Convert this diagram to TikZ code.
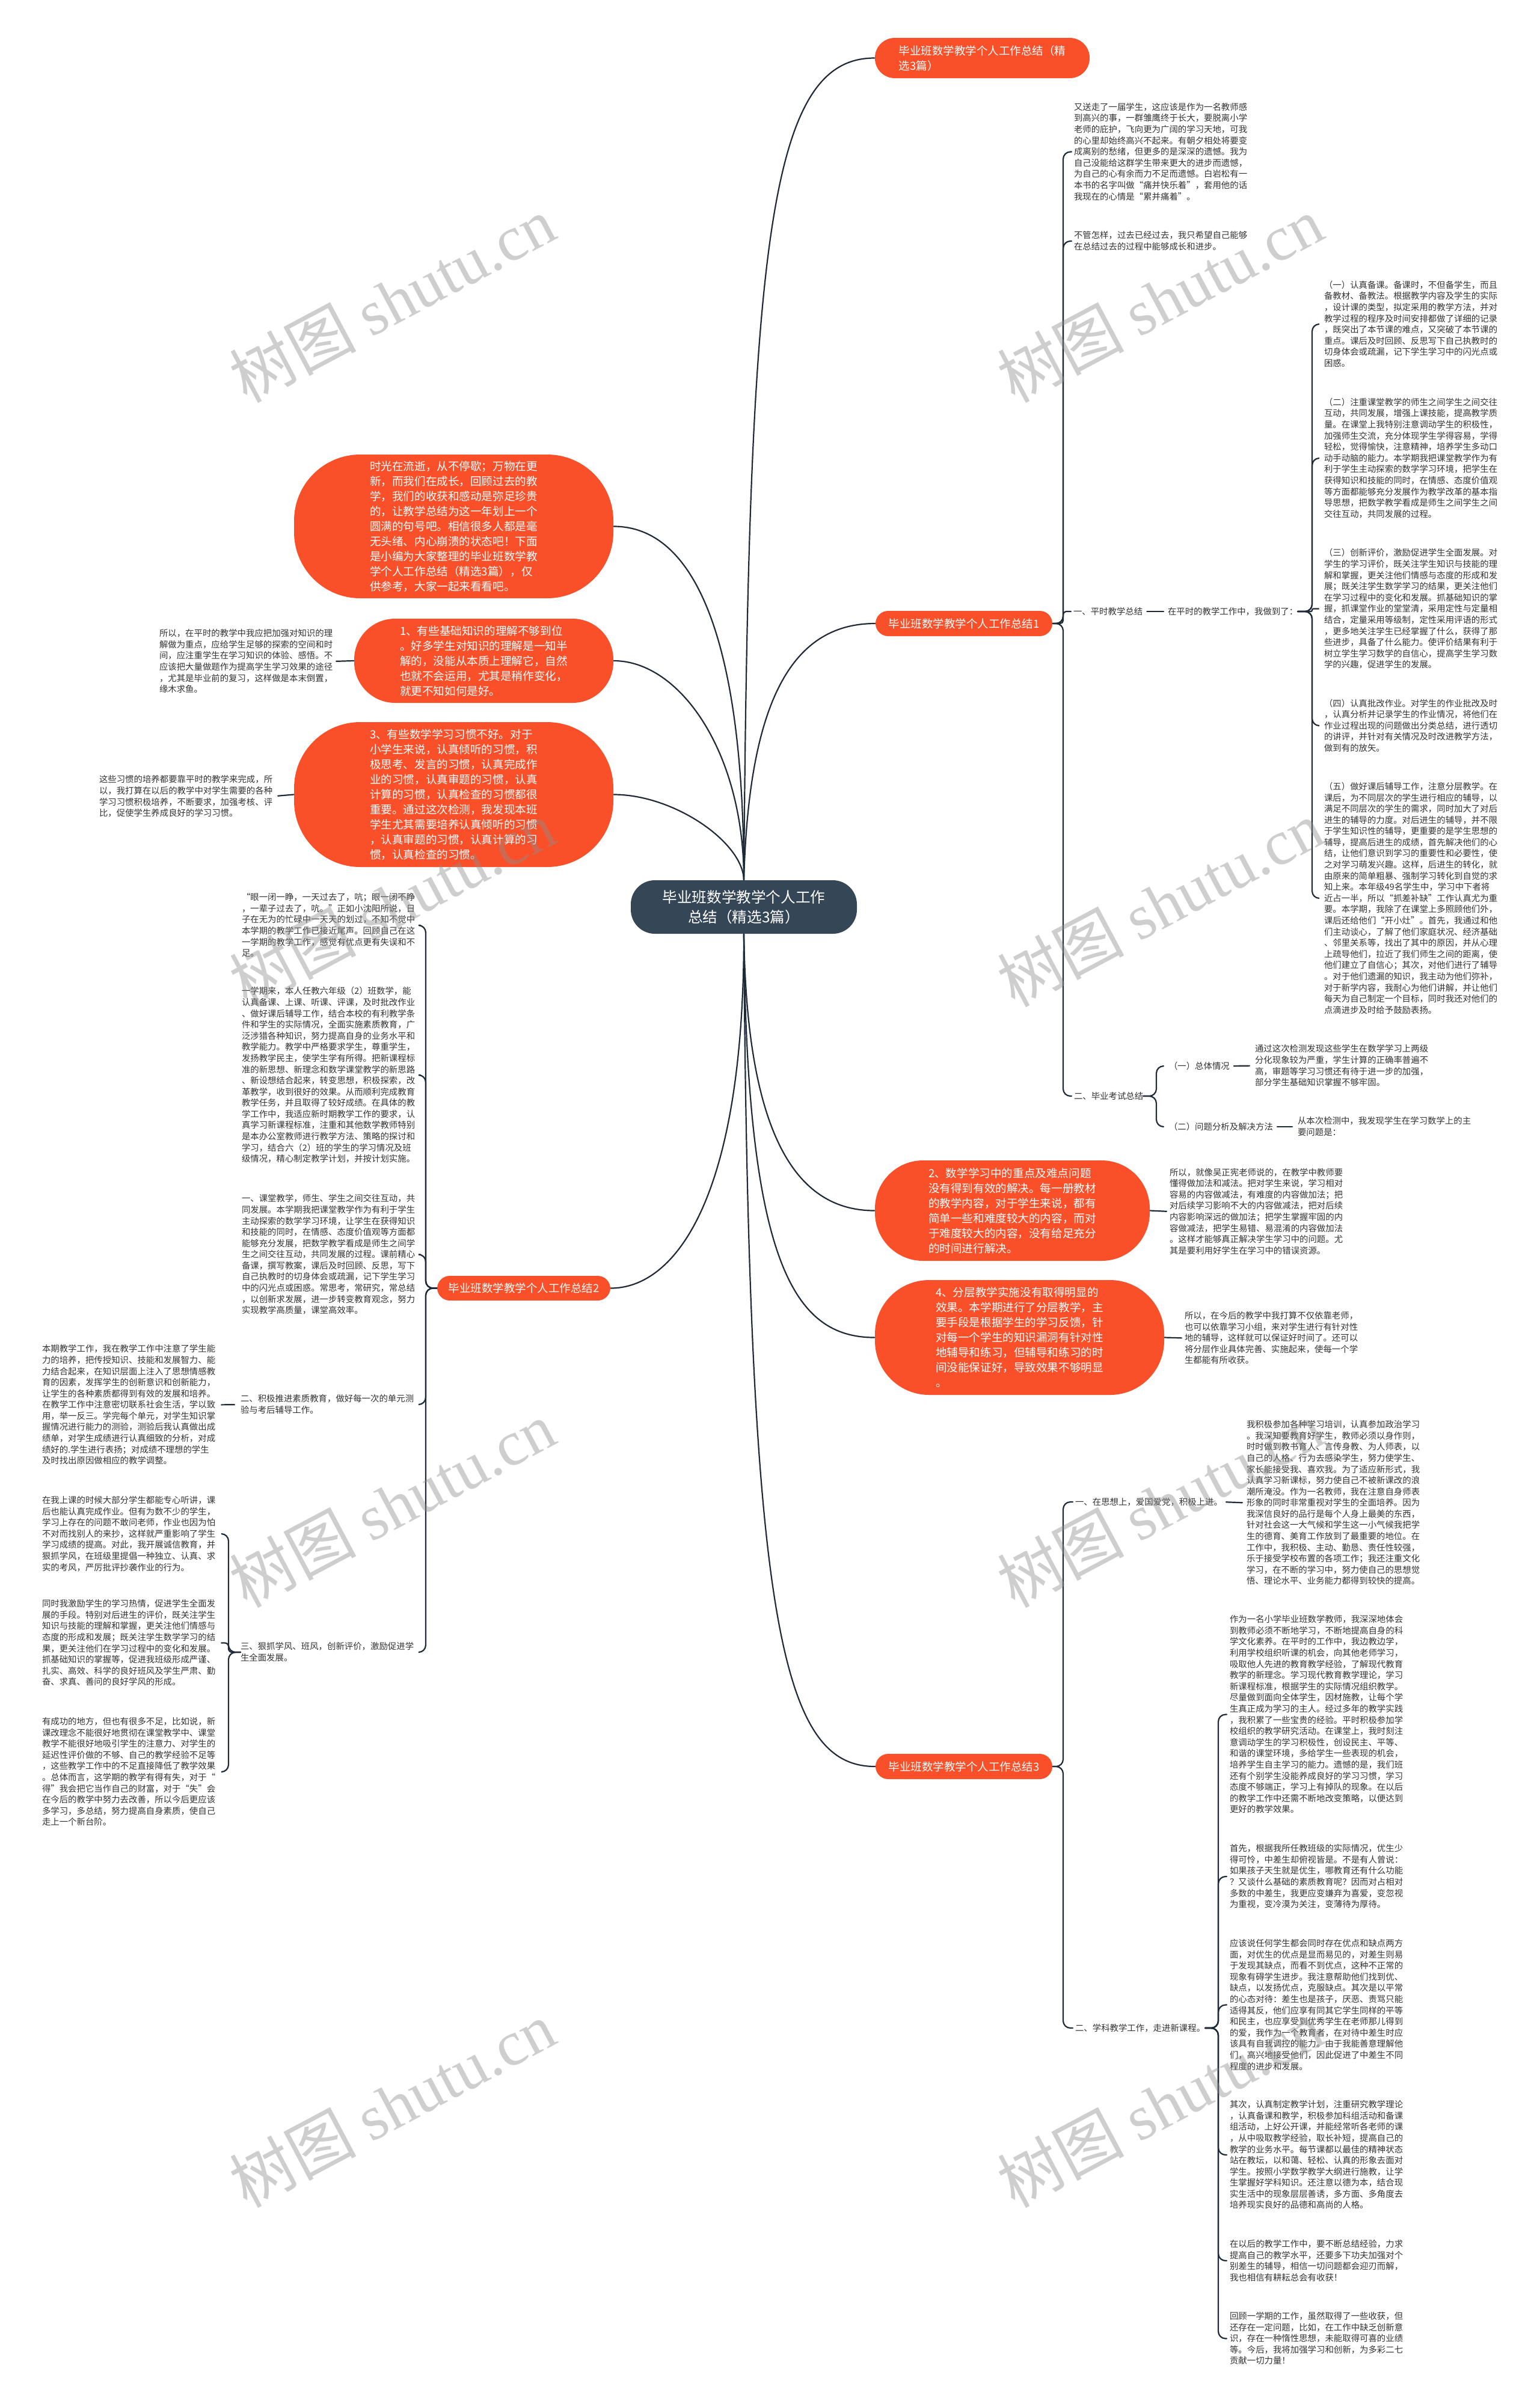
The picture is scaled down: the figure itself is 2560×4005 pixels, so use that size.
\documentclass[tikz,border=0pt]{standalone}
\usepackage{fontspec}
\setmainfont{Noto Sans CJK SC}
\newfontfamily\wmlatin{Liberation Serif}
\definecolor{redc}{RGB}{250,80,42}
\definecolor{darkc}{RGB}{53,70,86}
\definecolor{linec}{RGB}{30,42,55}
\definecolor{txtc}{RGB}{51,51,51}
\tikzset{
  conn/.style={draw=linec, line width=0.22mm, line cap=round},
  hook/.style={conn, rounded corners=1.2mm},
  para/.style={anchor=west, inner sep=0pt, outer sep=0pt, align=left, text=txtc,
    font=\fontsize{4.1pt}{5.29pt}\selectfont,
    execute at begin node={\rule[-0.12em]{0pt}{0.88em}},
    execute at end node={\rule[-0.12em]{0pt}{0.88em}}},
  redbox/.style={fill=redc, text=white, align=left, inner sep=0pt,
    font=\fontsize{5.29pt}{7.11pt}\selectfont},
  branchbox/.style={fill=redc, text=white, inner sep=0pt,
    font=\fontsize{5.26pt}{7.11pt}\selectfont, minimum height=4.2mm,
    minimum width=29.4mm, rounded corners=2.1mm},
  wm/.style={rotate=28, text=black!45, text opacity=0.42, inner sep=0pt,
    font=\fontsize{30pt}{36pt}\selectfont},
}
\begin{document}
\begin{tikzpicture}[x=0.1mm,y=-0.1mm]
\fill[white] (0,0) rectangle (2560,4005);
\useasboundingbox (0,0) rectangle (2560,4005);

% ---------------- central and main nodes ----------------
\node[fill=darkc, text=white, align=center, inner sep=0pt, minimum width=37.6mm,
  minimum height=8.9mm, rounded corners=4mm, font=\fontsize{7pt}{9.3pt}\selectfont]
  (c) at (1237,1508.5) {毕业班数学教学个人工作\\总结（精选3篇）};

\node[redbox, minimum width=35.7mm, minimum height=6.7mm, rounded corners=3.3mm,
  font=\fontsize{5.26pt}{7.11pt}\selectfont] (t) at (1633.5,96.5)
  {毕业班数学教学个人工作总结（精\\选3篇）};

\node[branchbox] (b1) at (1603,1037) {毕业班数学教学个人工作总结1};
\node[branchbox, minimum width=28.8mm, minimum height=4.1mm] (b2) at (871,2142.5) {毕业班数学教学个人工作总结2};
\node[branchbox] (b3) at (1603,2938) {毕业班数学教学个人工作总结3};

\node[redbox, minimum width=53.1mm, minimum height=23.9mm, rounded corners=11mm] (intro) at (754.5,875.5)
{时光在流逝，从不停歇；万物在更\\
新，而我们在成长，回顾过去的教\\
学，我们的收获和感动是弥足珍贵\\
的，让教学总结为这一年划上一个\\
圆满的句号吧。相信很多人都是毫\\
无头绪、内心崩溃的状态吧！下面\\
是小编为大家整理的毕业班数学教\\
学个人工作总结（精选3篇），仅\\
供参考，大家一起来看看吧。};

\node[redbox, minimum width=43.1mm, minimum height=14mm, rounded corners=6.8mm] (n1) at (804.5,1099)
{1、有些基础知识的理解不够到位\\
。好多学生对知识的理解是一知半\\
解的，没能从本质上理解它，自然\\
也就不会运用，尤其是稍作变化，\\
就更不知如何是好。};

\node[redbox, minimum width=53.1mm, minimum height=24.1mm, rounded corners=11mm] (n3) at (754.5,1321.5)
{3、有些数学学习习惯不好。对于\\
小学生来说，认真倾听的习惯，积\\
极思考、发言的习惯，认真完成作\\
业的习惯，认真审题的习惯，认真\\
计算的习惯，认真检查的习惯都很\\
重要。通过这次检测，我发现本班\\
学生尤其需要培养认真倾听的习惯\\
，认真审题的习惯，认真计算的习\\
惯，认真检查的习惯。};

\node[redbox, minimum width=45.7mm, minimum height=16.7mm, rounded corners=8mm] (n2) at (1683.5,2013.5)
{2、数学学习中的重点及难点问题\\
没有得到有效的解决。每一册教材\\
的教学内容，对于学生来说，都有\\
简单一些和难度较大的内容，而对\\
于难度较大的内容，没有给足充分\\
的时间进行解决。};

\node[redbox, minimum width=48.1mm, minimum height=19.1mm, rounded corners=9mm] (n4) at (1695.5,2224.5)
{4、分层教学实施没有取得明显的\\
效果。本学期进行了分层教学，主\\
要手段是根据学生的学习反馈，针\\
对每一个学生的知识漏洞有针对性\\
地辅导和练习，但辅导和练习的时\\
间没能保证好，导致效果不够明显\\
。};

% ---------------- branch 1 texts ----------------
\node[para] (p1a) at (1786,252.5)
{又送走了一届学生，这应该是作为一名教师感\\
到高兴的事，一群雏鹰终于长大，要脱离小学\\
老师的庇护，飞向更为广阔的学习天地，可我\\
的心里却始终高兴不起来。有朝夕相处将要变\\
成离别的愁绪，但更多的是深深的遗憾。我为\\
自己没能给这群学生带来更大的进步而遗憾，\\
为自己的心有余而力不足而遗憾。白岩松有一\\
本书的名字叫做“痛并快乐着”，套用他的话\\
我现在的心情是“累并痛着”。};
\node[para] (p1b) at (1786,401)
{不管怎样，过去已经过去，我只希望自己能够\\
在总结过去的过程中能够成长和进步。};
\node[para] (s1) at (1785,1017) {一、平时教学总结};
\node[para] (s1t) at (1942,1017) {在平时的教学工作中，我做到了：};

\node[para] (r1) at (2202,539)
{（一）认真备课。备课时，不但备学生，而且\\
备教材、备教法。根据教学内容及学生的实际\\
，设计课的类型，拟定采用的教学方法，并对\\
教学过程的程序及时间安排都做了详细的记录\\
，既突出了本节课的难点，又突破了本节课的\\
重点。课后及时回顾、反思写下自己执教时的\\
切身体会或疏漏，记下学生学习中的闪光点或\\
困惑。};
\node[para] (r2) at (2202,762)
{（二）注重课堂教学的师生之间学生之间交往\\
互动，共同发展，增强上课技能，提高教学质\\
量。在课堂上我特别注意调动学生的积极性，\\
加强师生交流，充分体现学生学得容易，学得\\
轻松，觉得愉快，注意精神，培养学生多动口\\
动手动脑的能力。本学期我把课堂教学作为有\\
利于学生主动探索的数学学习环境，把学生在\\
获得知识和技能的同时，在情感、态度价值观\\
等方面都能够充分发展作为教学改革的基本指\\
导思想，把数学教学看成是师生之间学生之间\\
交往互动，共同发展的过程。};
\node[para] (r3) at (2202,1012.5)
{（三）创新评价，激励促进学生全面发展。对\\
学生的学习评价，既关注学生知识与技能的理\\
解和掌握，更关注他们情感与态度的形成和发\\
展；既关注学生数学学习的结果，更关注他们\\
在学习过程中的变化和发展。抓基础知识的掌\\
握，抓课堂作业的堂堂清，采用定性与定量相\\
结合，定量采用等级制，定性采用评语的形式\\
，更多地关注学生已经掌握了什么，获得了那\\
些进步，具备了什么能力。使评价结果有利于\\
树立学生学习数学的自信心，提高学生学习数\\
学的兴趣，促进学生的发展。};
\node[para] (r4) at (2202,1207)
{（四）认真批改作业。对学生的作业批改及时\\
，认真分析并记录学生的作业情况，将他们在\\
作业过程出现的问题做出分类总结，进行透切\\
的讲评，并针对有关情况及时改进教学方法，\\
做到有的放矢。};
\node[para] (r5) at (2202,1494)
{（五）做好课后辅导工作，注意分层教学。在\\
课后，为不同层次的学生进行相应的辅导，以\\
满足不同层次的学生的需求，同时加大了对后\\
进生的辅导的力度。对后进生的辅导，并不限\\
于学生知识性的辅导，更重要的是学生思想的\\
辅导，提高后进生的成绩，首先解决他们的心\\
结，让他们意识到学习的重要性和必要性，使\\
之对学习萌发兴趣。这样，后进生的转化，就\\
由原来的简单粗暴、强制学习转化到自觉的求\\
知上来。本年级49名学生中，学习中下者将\\
近占一半，所以“抓差补缺”工作认真尤为重\\
要。本学期，我除了在课堂上多照顾他们外，\\
课后还给他们“开小灶”。首先，我通过和他\\
们主动谈心，了解了他们家庭状况、经济基础\\
、邻里关系等，找出了其中的原因，并从心理\\
上疏导他们，拉近了我们师生之间的距离，使\\
他们建立了自信心；其次，对他们进行了辅导\\
。对于他们遗漏的知识，我主动为他们弥补，\\
对于新学内容，我耐心为他们讲解，并让他们\\
每天为自己制定一个目标，同时我还对他们的\\
点滴进步及时给予鼓励表扬。};

\node[para] (s2) at (1786,1823) {二、毕业考试总结};
\node[para] (e1) at (1944,1773) {（一）总体情况};
\node[para] (e1t) at (2087,1772.5)
{通过这次检测发现这些学生在数学学习上两级\\
分化现象较为严重，学生计算的正确率普遍不\\
高，审题等学习习惯还有待于进一步的加强，\\
部分学生基础知识掌握不够牢固。};
\node[para] (e2) at (1944,1874) {（二）问题分析及解决方法};
\node[para] (e2t) at (2158,1874)
{从本次检测中，我发现学生在学习数学上的主\\
要问题是：};

\node[para] (n2t) at (1945,2015)
{所以，就像吴正宪老师说的，在教学中教师要\\
懂得做加法和减法。把对学生来说，学习相对\\
容易的内容做减法，有难度的内容做加法；把\\
对后续学习影响不大的内容做减法，把对后续\\
内容影响深远的做加法；把学生掌握牢固的内\\
容做减法，把学生易错、易混淆的内容做加法\\
。这样才能够真正解决学生学习中的问题。尤\\
其是要利用好学生在学习中的错误资源。};
\node[para] (n4t) at (1970,2225.5)
{所以，在今后的教学中我打算不仅依靠老师，\\
也可以依靠学习小组，来对学生进行有针对性\\
地的辅导，这样就可以保证好时间了。还可以\\
将分层作业具体完善、实施起来，使每一个学\\
生都能有所收获。};

\node[para] (lt1) at (265,1100)
{所以，在平时的教学中我应把加强对知识的理\\
解做为重点，应给学生足够的探索的空间和时\\
间，应注重学生在学习知识的体验、感悟。不\\
应该把大量做题作为提高学生学习效果的途径\\
，尤其是毕业前的复习，这样做是本末倒置，\\
缘木求鱼。};
\node[para] (lt3) at (165,1324.5)
{这些习惯的培养都要靠平时的教学来完成，所\\
以，我打算在以后的教学中对学生需要的各种\\
学习习惯积极培养，不断要求，加强考核、评\\
比，促使学生养成良好的学习习惯。};

% ---------------- branch 2 texts ----------------
\node[para] (b2a) at (402,1539)
{“眼一闭一睁，一天过去了，吭；眼一闭不睁\\
，一辈子过去了，吭。”正如小沈阳所说，日\\
子在无为的忙碌中一天天的划过，不知不觉中\\
本学期的教学工作已接近尾声。回顾自己在这\\
一学期的教学工作，感觉有优点更有失误和不\\
足。};
\node[para] (b2b) at (402,1788)
{一学期来，本人任教六年级（2）班数学，能\\
认真备课、上课、听课、评课，及时批改作业\\
、做好课后辅导工作，结合本校的有利教学条\\
件和学生的实际情况，全面实施素质教育，广\\
泛涉猎各种知识，努力提高自身的业务水平和\\
教学能力。教学中严格要求学生，尊重学生，\\
发扬教学民主，使学生学有所得。把新课程标\\
准的新思想、新理念和数学课堂教学的新思路\\
、新设想结合起来，转变思想，积极探索，改\\
革教学，收到很好的效果。从而顺利完成教育\\
教学任务，并且取得了较好成绩。在具体的教\\
学工作中，我适应新时期教学工作的要求，认\\
真学习新课程标准，注重和其他数学教师特别\\
是本办公室教师进行教学方法、策略的探讨和\\
学习，结合六（2）班的学生的学习情况及班\\
级情况，精心制定教学计划，并按计划实施。};
\node[para] (b2c) at (402,2086.5)
{一、课堂教学，师生、学生之间交往互动，共\\
同发展。本学期我把课堂教学作为有利于学生\\
主动探索的数学学习环境，让学生在获得知识\\
和技能的同时，在情感、态度价值观等方面都\\
能够充分发展，把数学教学看成是师生之间学\\
生之间交往互动，共同发展的过程。课前精心\\
备课，撰写教案，课后及时回顾、反思，写下\\
自己执教时的切身体会或疏漏，记下学生学习\\
中的闪光点或困惑。常思考，常研究，常总结\\
，以创新求发展，进一步转变教育观念，努力\\
实现教学高质量，课堂高效率。};
\node[para] (b2d) at (400,2336)
{二、积极推进素质教育，做好每一次的单元测\\
验与考后辅导工作。};
\node[para] (b2dt) at (70,2336.5)
{本期教学工作，我在教学工作中注意了学生能\\
力的培养，把传授知识、技能和发展智力、能\\
力结合起来，在知识层面上注入了思想情感教\\
育的因素，发挥学生的创新意识和创新能力，\\
让学生的各种素质都得到有效的发展和培养。\\
在教学工作中注意密切联系社会生活，学以致\\
用，举一反三。学完每个单元，对学生知识掌\\
握情况进行能力的测验，测验后我认真做出成\\
绩单，对学生成绩进行认真细致的分析，对成\\
绩好的.学生进行表扬；对成绩不理想的学生\\
及时找出原因做相应的教学调整。};
\node[para] (b2e) at (400,2748)
{三、狠抓学风、班风，创新评价，激励促进学\\
生全面发展。};
\node[para] (b2e1) at (70,2551)
{在我上课的时候大部分学生都能专心听讲，课\\
后也能认真完成作业。但有为数不少的学生，\\
学习上存在的问题不敢问老师，作业也因为怕\\
不对而找别人的来抄，这样就严重影响了学生\\
学习成绩的提高。对此，我开展诚信教育，并\\
狠抓学风，在班级里提倡一种独立、认真、求\\
实的考风，严厉批评抄袭作业的行为。};
\node[para] (b2e2) at (70,2732.5)
{同时我激励学生的学习热情，促进学生全面发\\
展的手段。特别对后进生的评价，既关注学生\\
知识与技能的理解和掌握，更关注他们情感与\\
态度的形成和发展；既关注学生数学学习的结\\
果，更关注他们在学习过程中的变化和发展。\\
抓基础知识的掌握等，促进我班级形成严谨、\\
扎实、高效、科学的良好班风及学生严肃、勤\\
奋、求真、善问的良好学风的形成。};
\node[para] (b2e3) at (70,2947)
{有成功的地方，但也有很多不足，比如说，新\\
课改理念不能很好地贯彻在课堂教学中、课堂\\
教学不能很好地吸引学生的注意力、对学生的\\
延迟性评价做的不够、自己的教学经验不足等\\
，这些教学工作中的不足直接降低了教学效果\\
。总体而言，这学期的教学有得有失，对于“\\
得”我会把它当作自己的财富，对于“失”会\\
在今后的教学中努力去改善，所以今后更应该\\
多学习，多总结，努力提高自身素质，使自己\\
走上一个新台阶。};

% ---------------- branch 3 texts ----------------
\node[para] (b3a) at (1788,2498) {一、在思想上，爱国爱党，积极上进。};
\node[para] (b3at) at (2073,2499.5)
{我积极参加各种学习培训，认真参加政治学习\\
。我深知要教育好学生，教师必须以身作则，\\
时时做到教书育人、言传身教、为人师表，以\\
自己的人格、行为去感染学生，努力使学生、\\
家长能接受我、喜欢我。为了适应新形式，我\\
认真学习新课标，努力使自己不被新课改的浪\\
潮所淹没。作为一名教师，我在注意自身师表\\
形象的同时非常重视对学生的全面培养。因为\\
我深信良好的品行是每个人身上最美的东西，\\
针对社会这一大气候和学生这一小气候我把学\\
生的德育、美育工作放到了最重要的地位。在\\
工作中，我积极、主动、勤恳、责任性较强，\\
乐于接受学校布置的各项工作；我还注重文化\\
学习，在不断的学习中，努力使自己的思想觉\\
悟、理论水平、业务能力都得到较快的提高。};
\node[para] (b3b) at (1788,3373) {二、学科教学工作，走进新课程。};
\node[para] (b3b1) at (2045,2851.5)
{作为一名小学毕业班数学教师，我深深地体会\\
到教师必须不断地学习，不断地提高自身的科\\
学文化素养。在平时的工作中，我边教边学，\\
利用学校组织听课的机会，向其他老师学习，\\
吸取他人先进的教育教学经验，了解现代教育\\
教学的新理念。学习现代教育教学理论，学习\\
新课程标准，根据学生的实际情况组织教学。\\
尽量做到面向全体学生，因材施教，让每个学\\
生真正成为学习的主人。经过多年的教学实践\\
，我积累了一些宝贵的经验。平时积极参加学\\
校组织的教学研究活动。在课堂上，我时刻注\\
意调动学生的学习积极性，创设民主、平等、\\
和谐的课堂环境，多给学生一些表现的机会，\\
培养学生自主学习的能力。遗憾的是，我们班\\
还有个别学生没能养成良好的学习习惯，学习\\
态度不够端正，学习上有掉队的现象。在以后\\
的教学工作中还需不断地改变策略，以便达到\\
更好的教学效果。};
\node[para] (b3b2) at (2045,3121)
{首先，根据我所任教班级的实际情况，优生少\\
得可怜，中差生却俯视皆是。不是有人曾说：\\
如果孩子天生就是优生，哪教育还有什么功能\\
？又谈什么基础的素质教育呢？因而对占相对\\
多数的中差生，我更应变嫌弃为喜爱，变忽视\\
为重视，变冷漠为关注，变薄待为厚待。};
\node[para] (b3b3) at (2045,3334.5)
{应该说任何学生都会同时存在优点和缺点两方\\
面，对优生的优点是显而易见的，对差生则易\\
于发现其缺点，而看不到优点，这种不正常的\\
现象有碍学生进步。我注意帮助他们找到优、\\
缺点，以发扬优点，克服缺点。其次是以平常\\
的心态对待：差生也是孩子，厌恶、责骂只能\\
适得其反，他们应享有同其它学生同样的平等\\
和民主，也应享受到优秀学生在老师那儿得到\\
的爱，我作为一个教育者，在对待中差生时应\\
该具有自我调控的能力。由于我能善意理解他\\
们，高兴地接受他们，因此促进了中差生不同\\
程度的进步和发展。};
\node[para] (b3b4) at (2045,3584)
{其次，认真制定教学计划，注重研究教学理论\\
，认真备课和教学，积极参加科组活动和备课\\
组活动，上好公开课，并能经常听各老师的课\\
，从中吸取教学经验，取长补短，提高自己的\\
教学的业务水平。每节课都以最佳的精神状态\\
站在教坛，以和蔼、轻松、认真的形象去面对\\
学生。按照小学数学教学大纲进行施教，让学\\
生掌握好学科知识。还注意以德为本，结合现\\
实生活中的现象层层善诱，多方面、多角度去\\
培养现实良好的品德和高尚的人格。};
\node[para] (b3b5) at (2045,3760)
{在以后的教学工作中，要不断总结经验，力求\\
提高自己的教学水平，还要多下功夫加强对个\\
别差生的辅导，相信一切问题都会迎刃而解，\\
我也相信有耕耘总会有收获！};
\node[para] (b3b6) at (2045,3889.5)
{回顾一学期的工作，虽然取得了一些收获，但\\
还存在一定问题，比如，在工作中缺乏创新意\\
识，存在一种惰性思想，未能取得可喜的业绩\\
等。今后，我将加强学习和创新，为多彩二七\\
贡献一切力量！};

% ---------------- connectors from the centre ----------------
\begin{scope}[on background layer/.style={}]
\draw[conn] (c.north) .. controls (1245,400) and (1280,96.5) .. (t.west);
\draw[conn] (c.north) .. controls (1237,1050) and (1150,875.5) .. (intro.east);
\draw[conn] (c.north) .. controls (1237,1250) and (1130,1099) .. (n1.east);
\draw[conn] (c.north) .. controls (1235,1400) and (1120,1321.5) .. (n3.east);
\draw[conn] (c.north) .. controls (1245,1180) and (1310,1037) .. (b1.west);
\draw[conn] (c.south) .. controls (1237,2000) and (1120,2142.5) .. (b2.east);
\draw[conn] (c.south) .. controls (1242,1900) and (1330,2013.5) .. (n2.west);
\draw[conn] (c.south) .. controls (1242,2100) and (1320,2224.5) .. (n4.west);
\draw[conn] (c.south) .. controls (1245,2700) and (1300,2938) .. (b3.west);
\end{scope}

% ---------------- brackets ----------------
% branch 1
\coordinate (bxA) at (1768,1037);
\foreach \ch in {p1a,p1b,s2}
  \draw[hook, shorten >=0.4mm] (b1.east) -- (bxA) -- (bxA |- \ch.west) -- (\ch.west);
\draw[conn, rounded corners=0.5mm, shorten >=0.4mm] (b1.east) -- (bxA) -- (bxA |- s1.west) -- (s1.west);
\draw[conn, shorten <=0.7mm, shorten >=0.7mm] (s1.east) -- (s1t.west);
% right column
\coordinate (bxB) at (2182,1017);
\foreach \ch in {r1,r2,r4,r5}
  \draw[hook, shorten >=0.9mm] (s1t.east) -- (bxB) -- (bxB |- \ch.west) -- (\ch.west);
\draw[conn, rounded corners=0.2mm, shorten >=0.9mm] (s1t.east) -- (bxB) -- (bxB |- r3.west) -- (r3.west);
% exam
\coordinate (bxC) at (1923,1823);
\foreach \ch in {e1,e2}
  \draw[hook, shorten >=0.9mm] (s2.east) -- (bxC) -- (bxC |- \ch.west) -- (\ch.west);
\draw[conn, shorten <=0.7mm, shorten >=0.9mm] (e1.east) -- (e1t.west);
\draw[conn, shorten <=0.7mm, shorten >=0.9mm] (e2.east) -- (e2t.west);
% red nodes to texts
\draw[conn, shorten <=0.6mm] (lt1.east) -- (n1.west);
\draw[conn, shorten <=0.9mm] (lt3.east) -- (n3.west);
\draw[conn, shorten >=0.5mm] (n2.east) -- (n2t.west);
\draw[conn, shorten >=0.5mm] (n4.east) -- (n4t.west);
% branch 2
\coordinate (bxD) at (708,2142.5);
\foreach \ch in {b2a,b2b,b2c,b2d,b2e}
  \draw[hook, shorten >=0.9mm] (b2.west) -- (bxD) -- (bxD |- \ch.east) -- (\ch.east);
\draw[conn, shorten <=1mm, shorten >=1mm] (b2dt.east) -- (b2d.west);
\coordinate (bxE) at (380,2748);
\foreach \ch in {b2e1,b2e3}
  \draw[hook, shorten >=1mm] (b2e.west) -- (bxE) -- (bxE |- \ch.east) -- (\ch.east);
\draw[conn, rounded corners=0.6mm, shorten >=1mm] (b2e.west) -- (bxE) -- (bxE |- b2e2.east) -- (b2e2.east);
% branch 3
\coordinate (bxF) at (1768,2938);
\foreach \ch in {b3a,b3b}
  \draw[hook, shorten >=0.4mm] (b3.east) -- (bxF) -- (bxF |- \ch.west) -- (\ch.west);
\draw[conn, shorten <=0.6mm, shorten >=0.7mm] (b3a.east) -- (b3at.west);
\coordinate (bxG) at (2026,3373);
\foreach \ch in {b3b1,b3b2,b3b3,b3b4,b3b5,b3b6}
  \draw[hook, shorten >=0.5mm] (b3b.east) -- (bxG) -- (bxG |- \ch.west) -- (\ch.west);

% ---------------- watermarks ----------------
\foreach \wx/\wy [count=\i] in {652/498, 1929/498, 652/1503, 1929/1503, 652/2502, 1929/2502, 652/3500, 1929/3500}
  \node[wm] (wm\i) at (\wx,\wy) {树图 {\wmlatin shutu.cn}};
\end{tikzpicture}
\end{document}
